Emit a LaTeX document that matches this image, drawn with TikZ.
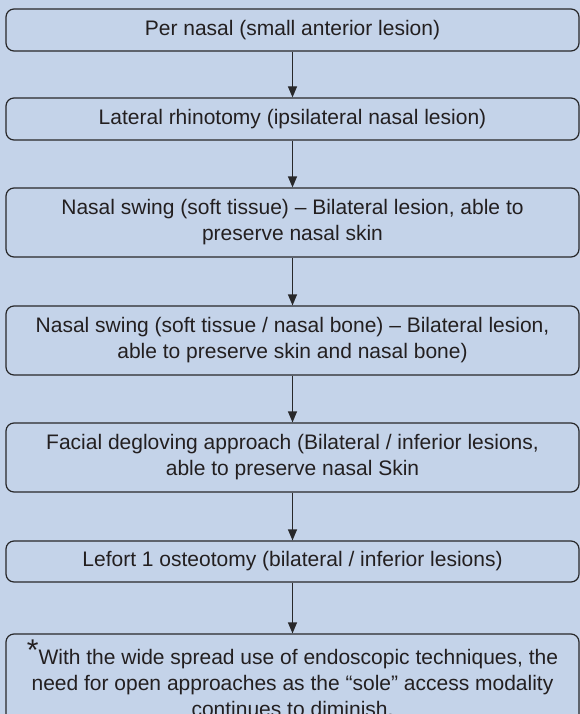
\documentclass[tikz,border=0pt]{standalone}
\usepackage{fontspec}
\setmainfont{Liberation Sans}
\usetikzlibrary{arrows.meta}
\definecolor{bgcol}{RGB}{196,211,233}
\definecolor{linecol}{RGB}{40,40,42}
\definecolor{txtcol}{RGB}{35,31,32}
\begin{document}
\begin{tikzpicture}[x=1bp,y=-1bp,
  stepbox/.style={draw=linecol, line width=1.2bp, rounded corners=8bp, fill=bgcol,
    minimum width=573bp, align=center, text=txtcol, inner sep=0pt,
    font=\fontsize{21bp}{26bp}\selectfont},
  flow/.style={draw=linecol, line width=1.2bp, -{Triangle[width=9bp,length=11bp]}}]
\useasboundingbox (0,0) rectangle (580,714);
\clip (0,0) rectangle (580,714);
\fill[bgcol] (0,0) rectangle (580,714);
\node[stepbox, minimum height=42bp] (b1) at (292.5,30) {Per nasal (small anterior lesion)};
\node[stepbox, minimum height=42bp] (b2) at (292.5,119) {Lateral rhinotomy (ipsilateral nasal lesion)};
\node[stepbox, minimum height=69bp] (b3) at (292.5,222.5) {Nasal swing (soft tissue) -- Bilateral lesion, able to\\preserve nasal skin};
\node[stepbox, minimum height=69bp] (b4) at (292.5,340.5) {Nasal swing (soft tissue / nasal bone) -- Bilateral lesion,\\able to preserve skin and nasal bone)};
\node[stepbox, minimum height=69bp] (b5) at (292.5,457.5) {Facial degloving approach (Bilateral / inferior lesions,\\able to preserve nasal Skin};
\node[stepbox, minimum height=41bp] (b6) at (292.5,561.5) {Lefort 1 osteotomy (bilateral / inferior lesions)};
\node[stepbox, minimum height=98bp] (b7) at (292.5,683) {\smash{\raisebox{4bp}{\fontsize{30bp}{30bp}\selectfont *}}With the wide spread use of endoscopic techniques, the\\need for open approaches as the “sole” access modality\\continues to diminish.};
\draw[flow] (b1) -- (b2);
\draw[flow] (b2) -- (b3);
\draw[flow] (b3) -- (b4);
\draw[flow] (b4) -- (b5);
\draw[flow] (b5) -- (b6);
\draw[flow] (b6) -- (b7);
\end{tikzpicture}
\end{document}
